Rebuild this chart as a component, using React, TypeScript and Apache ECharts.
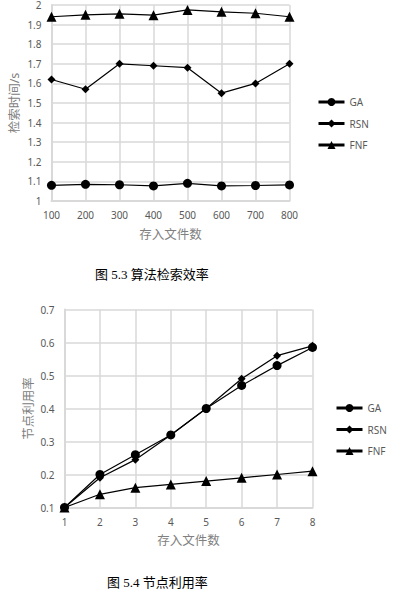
import React, { useEffect, useRef } from "react";
import * as echarts from "echarts";

const cats1 = ["100", "200", "300", "400", "500", "600", "700", "800"];
const ga1 = [1.08, 1.085, 1.083, 1.077, 1.09, 1.077, 1.079, 1.082];
const rsn1 = [1.62, 1.57, 1.7, 1.69, 1.68, 1.55, 1.6, 1.7];
const fnf1 = [1.94, 1.95, 1.955, 1.948, 1.975, 1.965, 1.958, 1.94];

const cats2 = ["1", "2", "3", "4", "5", "6", "7", "8"];
const ga2 = [0.1, 0.2, 0.26, 0.32, 0.4, 0.47, 0.53, 0.585];
const rsn2 = [0.1, 0.19, 0.245, 0.32, 0.4, 0.49, 0.56, 0.59];
const fnf2 = [0.1, 0.14, 0.16, 0.17, 0.18, 0.19, 0.2, 0.21];

const seriesNames = ["GA", "RSN", "FNF"];
const caption1 = "图 5.3 算法检索效率";
const caption2 = "图 5.4 节点利用率";
const xName = "存入文件数";
const yName1 = "检索时间/s";
const yName2 = "节点利用率";

const SANS = "'Noto Sans', 'Noto Sans CJK SC', sans-serif";
const SERIF = "'Liberation Serif', 'Noto Sans CJK SC', serif";
const LABEL = "#595959";
const NAME = "#808080";
const GRID = "#d9d9d9";

export default function App() {
  const ref = useRef<HTMLDivElement>(null);
  useEffect(() => {
    if (!ref.current) return;
    const chart = echarts.init(ref.current, undefined, { renderer: "svg" });
    const xAxisBase = (idx: number, cats: string[]) => ({
      type: "category",
      gridIndex: idx,
      data: cats,
      boundaryGap: false,
      name: xName,
      nameLocation: "middle",
      nameGap: 27,
      nameMoveOverlap: false,
      nameTextStyle: { color: NAME, fontSize: 12.5, fontFamily: SANS },
      axisLine: { lineStyle: { color: GRID, width: 2 } },
      axisTick: { show: false },
      axisLabel: { color: LABEL, fontSize: 10, margin: 9, fontFamily: SANS },
      splitLine: { show: true, lineStyle: { color: GRID, width: 1.5 } },
    });
    const yAxisBase = (idx: number, min: number, max: number, interval: number, name: string, gap: number, dec: number) => ({
      type: "value",
      gridIndex: idx,
      min,
      max,
      interval,
      name,
      nameLocation: "middle",
      nameRotate: 90,
      nameGap: gap,
      nameMoveOverlap: false,
      nameTextStyle: { color: NAME, fontSize: 12.5, fontFamily: SANS },
      axisLine: { show: true, lineStyle: { color: GRID, width: 2 } },
      axisTick: { show: false },
      axisLabel: {
        color: LABEL,
        fontSize: 10,
        margin: 10,
        lineHeight: 10,
        fontFamily: SANS,
        formatter: (v: number) => (dec === 0 ? String(Math.round(v * 10) / 10) : v.toFixed(dec)),
      },
      splitLine: { show: true, lineStyle: { color: GRID, width: 1.5 } },
    });
    const symbols = ["circle", "diamond", "triangle"];
    const sizes = [9, 8, 10];
    const mk = (name: string, i: number, data: number[], idx: number) => ({
      type: "line",
      name,
      xAxisIndex: idx,
      yAxisIndex: idx,
      data,
      symbol: symbols[i],
      symbolSize: sizes[i],
      showSymbol: true,
      lineStyle: { color: "#000", width: 1.2 },
      itemStyle: { color: "#000" },
    });
    const legendBase = (left: number, top: number) => ({
      orient: "vertical",
      left,
      top,
      padding: 0,
      data: seriesNames,
      itemWidth: 26,
      itemHeight: 10,
      itemGap: 11.5,
      selectedMode: false,
      textStyle: { color: LABEL, fontSize: 10, fontFamily: SANS },
      lineStyle: { width: 3 },
    });
    chart.setOption({
      animation: false,
      backgroundColor: "#fff",
      grid: [
        { left: 47, top: 3.5, width: 242.5, height: 197.5 },
        { left: 64.5, top: 309.5, width: 248, height: 198 },
      ],
      xAxis: [xAxisBase(0, cats1), xAxisBase(1, cats2)],
      yAxis: [
        yAxisBase(0, 1, 2, 0.1, yName1, 31, 0),
        yAxisBase(1, 0.1, 0.7, 0.1, yName2, 30, 1),
      ],
      legend: [legendBase(317, 97), legendBase(335, 403)],
      series: [
        mk("GA", 0, ga1, 0),
        mk("RSN", 1, rsn1, 0),
        mk("FNF", 2, fnf1, 0),
        mk("GA", 0, ga2, 1),
        mk("RSN", 1, rsn2, 1),
        mk("FNF", 2, fnf2, 1),
      ],
      graphic: [
        {
          type: "text",
          left: 95,
          top: 268,
          style: { text: caption1, fill: "#000", fontSize: 13, fontFamily: SERIF },
        },
        {
          type: "text",
          left: 107,
          top: 576,
          style: { text: caption2, fill: "#000", fontSize: 13, fontFamily: SERIF },
        },
      ],
    });
    return () => chart.dispose();
  }, []);
  return <div ref={ref} style={{ position: "absolute", left: 0, top: 0, width: 398, height: 606 }} />;
}
